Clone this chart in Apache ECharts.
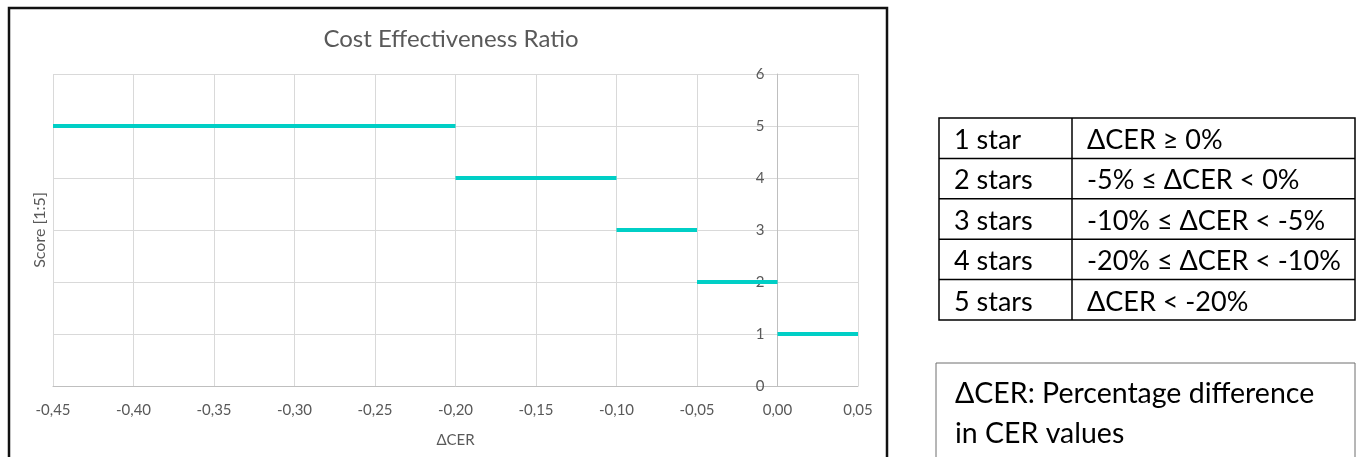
<!DOCTYPE html>
<html>
<head>
<meta charset="utf-8">
<script src="https://cdn.jsdelivr.net/npm/echarts@6/dist/echarts.min.js"></script>
<style>
html,body{margin:0;padding:0;background:#fff;}
#chart{width:1357px;height:457px;}
</style>
</head>
<body>
<div id="chart"></div>
<script>
// ---- data ----
var segStart = [-0.45, -0.20, -0.10, -0.05, 0.00];
var segEnd   = [-0.20, -0.10, -0.05, 0.00, 0.05];
var scores   = [5, 4, 3, 2, 1];
var xTickLabels = ['-0,45','-0,40','-0,35','-0,30','-0,25','-0,20','-0,15','-0,10','-0,05','0,00','0,05'];
var yTickLabels = ['0','1','2','3','4','5','6'];
var tableStars = ['1 star','2 stars','3 stars','4 stars','5 stars'];
var tableRule  = ['ΔCER ≥ 0%','-5% ≤ ΔCER < 0%','-10% ≤ ΔCER < -5%','-20% ≤ ΔCER < -10%','ΔCER < -20%'];
var noteLines  = ['ΔCER: Percentage difference','in CER values'];

var xMin = -0.45, xMax = 0.05, xStep = 0.05;
var FONT = 'Lato';
var TXT = '#595959';
var GRID_LEFT = 53;

var series = scores.map(function(s, i){
  return {
    type: 'line',
    data: [[segStart[i], s], [segEnd[i], s]],
    symbol: 'none',
    lineStyle: {color: '#00cfc6', width: 4},
    silent: true,
    animation: false
  };
});

var graphics = [];
// chart frame
graphics.push({type:'rect', shape:{x:9, y:8, width:878, height:470}, style:{fill:'none', stroke:'#111', lineWidth:2.5}, z:-10});
// y axis name
graphics.push({type:'text', x:40, y:230, rotation:Math.PI/2, style:{text:'Score [1:5]', font:'16px ' + FONT, fill:TXT, textAlign:'center', textVerticalAlign:'middle'}});

// table
var tX0 = 939, tX1 = 1355, tXc = 1072, tY0 = 118, tY1 = 320;
var rowH = (tY1 - tY0) / tableStars.length;
graphics.push({type:'rect', shape:{x:tX0, y:tY0, width:tX1-tX0, height:tY1-tY0}, style:{fill:'none', stroke:'#000', lineWidth:1.5}});
graphics.push({type:'line', shape:{x1:tXc, y1:tY0, x2:tXc, y2:tY1}, style:{stroke:'#000', lineWidth:1.5}});
for (var i = 1; i < tableStars.length; i++) {
  var yy = tY0 + i*rowH;
  graphics.push({type:'line', shape:{x1:tX0, y1:yy, x2:tX1, y2:yy}, style:{stroke:'#000', lineWidth:1.5}});
}
tableStars.forEach(function(t, i){
  var yc = tY0 + (i+0.5)*rowH + 2;
  graphics.push({type:'text', x:954, y:yc, style:{text:t, font:'27px ' + FONT, fill:'#000', textVerticalAlign:'middle'}});
  graphics.push({type:'text', x:1087, y:yc, style:{text:tableRule[i], font:'27px ' + FONT, fill:'#000', textVerticalAlign:'middle'}});
});
// note box
graphics.push({type:'rect', shape:{x:936, y:363, width:419, height:130}, style:{fill:'none', stroke:'#6f6f6f', lineWidth:1}});
noteLines.forEach(function(t, i){
  graphics.push({type:'text', x:955, y:394 + i*40, style:{text:t, font:'28.5px ' + FONT, fill:'#000', textVerticalAlign:'middle'}});
});

var option = {
  animation: false,
  backgroundColor: '#fff',
  title: {
    text: 'Cost Effectiveness Ratio',
    left: 446, top: 22, textAlign: 'center',
    textStyle: {fontFamily: FONT, fontSize: 24, fontWeight: 'normal', color: TXT}
  },
  grid: {left: GRID_LEFT, right: 1357-858, top: 74, bottom: 457-386, containLabel: false},
  xAxis: {
    type: 'value', min: xMin, max: xMax, interval: xStep,
    name: 'ΔCER', nameLocation: 'middle', nameGap: 47,
    nameTextStyle: {fontFamily: FONT, fontSize: 15, color: TXT},
    axisLine: {show: true, onZero: false, lineStyle: {color: '#bfbfbf', width: 1}},
    axisTick: {show: false},
    axisLabel: {
      fontFamily: FONT, fontSize: 15, color: TXT, margin: 17,
      formatter: function(v){ return xTickLabels[Math.round((v - xMin)/xStep)]; }
    },
    splitLine: {show: true, lineStyle: {color: '#d9d9d9', width: 1}}
  },
  yAxis: {
    type: 'value', min: 0, max: 6, interval: 1, position: 'left', offset: 0,
    axisLine: {show: true, onZero: false, lineStyle: {color: '#bfbfbf', width: 1}},
    axisTick: {show: false},
    axisLabel: {
      fontFamily: FONT, fontSize: 15, color: TXT, margin: 13,
      formatter: function(v){ return yTickLabels[Math.round(v)]; }
    },
    splitLine: {show: true, lineStyle: {color: '#d9d9d9', width: 1}}
  },
  series: series,
  graphic: graphics
};

var chart = echarts.init(document.getElementById('chart'), null, {renderer: 'canvas'});
chart.setOption(option);
// place the y axis where x = 0, using the library's own x scale
var zeroX = chart.convertToPixel({xAxisIndex: 0}, 0);
if (isFinite(zeroX)) {
  chart.setOption({yAxis: {offset: GRID_LEFT - zeroX}});
}
</script>
</body>
</html>
